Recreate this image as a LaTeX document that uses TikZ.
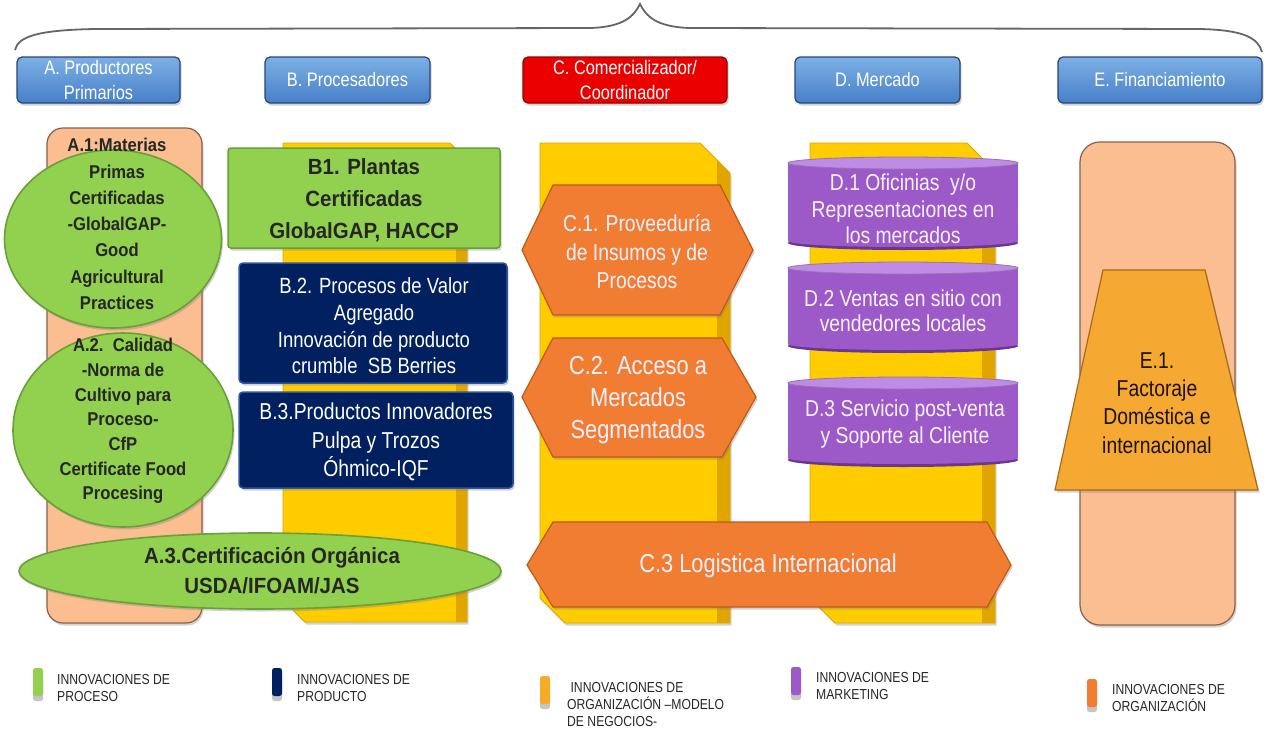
\documentclass[tikz,border=0pt]{standalone}
\usepackage{fontspec}
\setmainfont{Liberation Sans}
\newfontfamily\nar{Liberation Sans}[FakeStretch=0.84]
\newfontfamily\bnar{Liberation Sans}[FakeStretch=0.9]
\newfontfamily\bwid{Liberation Sans}[FakeStretch=0.93]
\usetikzlibrary{shapes.geometric,shadows}
\definecolor{hdr}{RGB}{70,128,200}
\definecolor{hdrL}{RGB}{125,175,228}
\definecolor{hdrD}{RGB}{35,70,120}
\definecolor{hred}{RGB}{235,0,0}
\definecolor{hredD}{RGB}{150,0,0}
\definecolor{grn}{RGB}{146,208,80}
\definecolor{grnD}{RGB}{105,160,55}
\definecolor{navy}{RGB}{0,32,96}
\definecolor{navyL}{RGB}{45,85,160}
\definecolor{org}{RGB}{240,125,50}
\definecolor{orgD}{RGB}{190,90,25}
\definecolor{yel}{RGB}{255,204,0}
\definecolor{yelD}{RGB}{225,165,0}
\definecolor{salm}{RGB}{250,190,145}
\definecolor{salmD}{RGB}{140,95,75}
\definecolor{purp}{RGB}{155,90,200}
\definecolor{purpL}{RGB}{190,140,228}
\definecolor{purpD}{RGB}{105,55,145}
\definecolor{trap}{RGB}{245,168,50}
\definecolor{trapD}{RGB}{170,105,20}
\definecolor{legorg}{RGB}{245,170,40}
\definecolor{lite}{RGB}{250,240,255}
\begin{document}
\begin{tikzpicture}[x=1pt,y=-1pt,
  shad/.style={drop shadow={opacity=0.35,shadow xshift=1.5pt,shadow yshift=-2.5pt}},
  hdrbox/.style={rounded corners=5pt,draw=hdrD,line width=1.2pt,top color=hdrL,bottom color=hdr,
    text=white,font=\nar\fontsize{19.5}{25}\selectfont,align=center,inner sep=0pt,minimum height=46pt,shad},
  greenell/.style={ellipse,fill=grn,draw=grnD,line width=1.6pt,inner sep=0pt,shad},
  atxt/.style={font=\bnar\bfseries\fontsize{18.5}{26.3}\selectfont,align=center,inner sep=0pt,text=black!85},
  navybox/.style={rounded corners=4pt,fill=navy,draw=navyL,line width=1.5pt,inner sep=0pt,shad},
  wtxt/.style={font=\nar\fontsize{22}{26.7}\selectfont,align=center,inner sep=0pt,text=white},
  otxt/.style={font=\nar\fontsize{23}{28.5}\selectfont,align=center,inner sep=0pt,text=lite},
  ptxt/.style={font=\nar\fontsize{23}{26.5}\selectfont,align=center,inner sep=0pt,text=lite},
  hexa/.style={fill=org,draw=orgD,line width=1.2pt,shad},
  column/.style={fill=yel,draw=yelD,line width=0.8pt,shad},
  legbar/.style={rounded corners=2.5pt,minimum width=10pt,minimum height=28pt,inner sep=0pt,
    drop shadow={opacity=0.45,shadow xshift=0pt,shadow yshift=-5pt}},
  legtxt/.style={font=\nar\fontsize{14.5}{17}\selectfont,align=left,anchor=north west,inner sep=0pt,text=black!85}]
\useasboundingbox (0,0) rectangle (1267,731);
\fill[white] (0,0) rectangle (1267,731);

% brace
\draw[black!60,line width=1.8pt] (15,50) .. controls (18,36) and (40,30) .. (95,29) -- (590,28)
  .. controls (624,27) and (634,16) .. (640,4) .. controls (646,16) and (656,27) .. (690,28)
  -- (1200,29) .. controls (1244,30) and (1258,38) .. (1262,52);

% headers
\node[hdrbox,minimum width=163pt] (hA) at (98.5,80) {A. Productores\\Primarios};
\node[hdrbox,minimum width=165pt] (hB) at (347.5,80) {B. Procesadores};
\node[hdrbox,minimum width=204pt,top color=hred,bottom color=hred,draw=hredD] (hC) at (625,80) {C. Comercializador/\\Coordinador};
\node[hdrbox,minimum width=165pt] (hD) at (877.5,80) {D. Mercado};
\node[hdrbox,minimum width=204pt] (hE) at (1160,80) {E. Financiamiento};

% columns
\draw[fill=salm,draw=salmD,line width=1.2pt,rounded corners=16pt,shad] (47,128) rectangle (202,623);
\draw[column] (283,143) -- (450,143) -- (467,160) -- (467,622) -- (305,622) -- (283,600) -- cycle;
\fill[yelD] (456,152) -- (467,160) -- (467,622) -- (456,622) -- cycle;
\draw[column] (540,143) -- (700,143) -- (730,173) -- (730,623) -- (565,623) -- (540,598) -- cycle;
\fill[yelD] (717,160) -- (730,173) -- (730,623) -- (717,623) -- cycle;
\draw[column] (810,143) -- (967,143) -- (995,171) -- (995,623) -- (835,623) -- (810,598) -- cycle;
\fill[yelD] (982,158) -- (995,171) -- (995,623) -- (982,623) -- cycle;
\draw[fill=salm,draw=salmD,line width=1.2pt,rounded corners=20pt,shad] (1080,142) rectangle (1235,625);

% A column
\node[greenell,minimum width=217pt,minimum height=178pt] (cA1) at (113,239) {};
\node[atxt] (tA1) at (117,224) {A.1:Materias\\Primas\\Certificadas\\-GlobalGAP-\\Good\\Agricultural\\Practices};
\node[greenell,minimum width=220pt,minimum height=194pt] (cA2) at (123,430) {};
\node[atxt,font=\bnar\bfseries\fontsize{18.5}{24.7}\selectfont] (tA2) at (123,421) {A.2.\ \ Calidad\\-Norma de\\Cultivo para\\Proceso-\\CfP\\Certificate Food\\Procesing};
\node[greenell,minimum width=482pt,minimum height=76pt] (cA3) at (260,571) {};
\node[atxt,font=\bwid\bfseries\fontsize{22}{30}\selectfont] (tA3) at (272,571) {A.3.Certificación Orgánica\\USDA/IFOAM/JAS};

% B column
\node[rounded corners=3pt,fill=grn,draw=grnD,line width=1.5pt,minimum width=272pt,minimum height=100pt,inner sep=0pt,shad] (bB1) at (364,198) {};
\node[atxt,font=\bwid\bfseries\fontsize{22}{32}\selectfont] (tB1) at (364,200) {B1. Plantas\\Certificadas\\GlobalGAP, HACCP};
\node[navybox,minimum width=268pt,minimum height=120pt] (bB2) at (373,323) {};
\node[wtxt] (tB2) at (374,326) {B.2. Procesos de Valor\\Agregado\\Innovación de producto\\crumble\ \ SB Berries};
\node[navybox,minimum width=274pt,minimum height=96pt] (bB3) at (376,440) {};
\node[wtxt,font=\nar\fontsize{23}{28.5}\selectfont] (tB3) at (376,442) {B.3.Productos Innovadores\\Pulpa y Trozos\\Óhmico-IQF};

% C column
\draw[hexa] (522,250) -- (553,185) -- (720,185) -- (753,250) -- (720,315) -- (553,315) -- cycle;
\node[otxt] (tC1) at (637,252) {C.1. Proveeduría\\de Insumos y de\\Procesos};
\draw[hexa] (522,397) -- (553,338) -- (722,338) -- (756,397) -- (722,457) -- (553,457) -- cycle;
\node[otxt,font=\nar\fontsize{26}{32}\selectfont] (tC2) at (638,400) {C.2. Acceso a\\Mercados\\Segmentados};
\draw[hexa] (527,565) -- (553,522) -- (987,522) -- (1011,565) -- (987,607) -- (553,607) -- cycle;
\node[otxt,font=\nar\fontsize{26}{30}\selectfont] (tC3) at (768,566) {C.3 Logistica Internacional};

% D column (cylinders)
\foreach \yt/\yb in {163/243, 268/346, 383/460}{
  \fill[purpD] (903,\yb) ellipse [x radius=115,y radius=7];
  \fill[purp] (788,\yt) rectangle (1018,\yb-2);
  \fill[purp] (903,\yb-2) ellipse [x radius=115,y radius=6];
  \draw[fill=purpL,draw=purpD!70,line width=0.8pt] (903,\yt) ellipse [x radius=115,y radius=6];
}
\node[ptxt] (tD1) at (903,209) {D.1 Oficinias\ \ y/o\\Representaciones en\\los mercados};
\node[ptxt,font=\nar\fontsize{23}{25.5}\selectfont] (tD2) at (903,311) {D.2 Ventas en sitio con\\vendedores locales};
\node[ptxt,font=\nar\fontsize{23}{27}\selectfont] (tD3) at (905,424) {D.3 Servicio post-venta\\y Soporte al Cliente};

% E column
\draw[fill=trap,draw=trapD,line width=1.2pt,shad] (1103,270) -- (1205,270) -- (1258,490) -- (1055,490) -- cycle;
\node[font=\nar\fontsize{23}{28.3}\selectfont,align=center,inner sep=0pt,text=black!85!brown] (tE1) at (1157,403) {E.1.\\Factoraje\\Doméstica e\\internacional};

% legend
\node[legbar,fill=grn] (l1) at (38,682) {};
\node[legtxt] (lt1) at (57,674) {INNOVACIONES DE\\PROCESO};
\node[legbar,fill=navy] (l2) at (277,682) {};
\node[legtxt] (lt2) at (297,674) {INNOVACIONES DE\\PRODUCTO};
\node[legbar,fill=legorg] (l3) at (545,690) {};
\node[legtxt] (lt3) at (567,682) {\ INNOVACIONES DE\\ORGANIZACIÓN –MODELO\\DE NEGOCIOS-};
\node[legbar,fill=purp] (l4) at (796,681) {};
\node[legtxt] (lt4) at (816,672) {INNOVACIONES DE\\MARKETING};
\node[legbar,fill=org] (l5) at (1092,693) {};
\node[legtxt] (lt5) at (1112,684) {INNOVACIONES DE\\ORGANIZACIÓN};
\end{tikzpicture}
\end{document}
